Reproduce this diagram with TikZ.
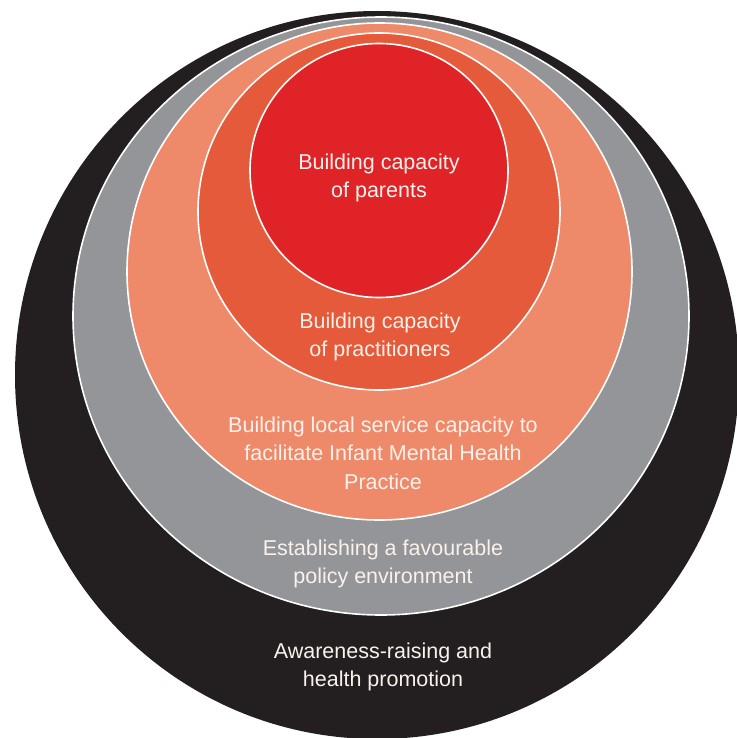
\documentclass[tikz,border=0pt]{standalone}
\usepackage{fontspec}
\setmainfont{Liberation Sans}
\definecolor{cblack}{HTML}{231F20}
\definecolor{cgray}{HTML}{939598}
\definecolor{csalmon}{HTML}{EE8A6A}
\definecolor{corange}{HTML}{E55A3A}
\definecolor{cred}{HTML}{E02326}
\definecolor{ctext}{HTML}{FBF1EC}
\tikzset{
  ring/.style={draw=white, line width=1.6pt},
  label/.style={text=ctext, align=center, font=\fontsize{21.5}{28.5}\selectfont, inner sep=0pt},
}
\begin{document}
\begin{tikzpicture}[x=1pt,y=-1pt]
\useasboundingbox (0,0) rectangle (736,738);
\fill[white] (0,0) rectangle (736,738);
\fill[cblack] (377,375) ellipse [x radius=362, y radius=364];
\path[ring, fill=cgray] (381,316) ellipse [x radius=308, y radius=299];
\path[ring, fill=csalmon] (379.5,271.5) ellipse [x radius=252.5, y radius=248.5];
\path[ring, fill=corange] (379,211.5) ellipse [x radius=181, y radius=178.5];
\path[ring, fill=cred] (379,170.5) ellipse [x radius=129, y radius=127];
\node[label] (parents) at (379,178) {Building capacity\\of parents};
\node[label] (pract) at (380,337) {Building capacity\\of practitioners};
\node[label] (local) at (383,453) {Building local service capacity to\\facilitate Infant Mental Health\\Practice};
\node[label] (policy) at (383,564) {Establishing a favourable\\policy environment};
\node[label] (aware) at (383,667) {Awareness-raising and\\health promotion};
\end{tikzpicture}
\end{document}
